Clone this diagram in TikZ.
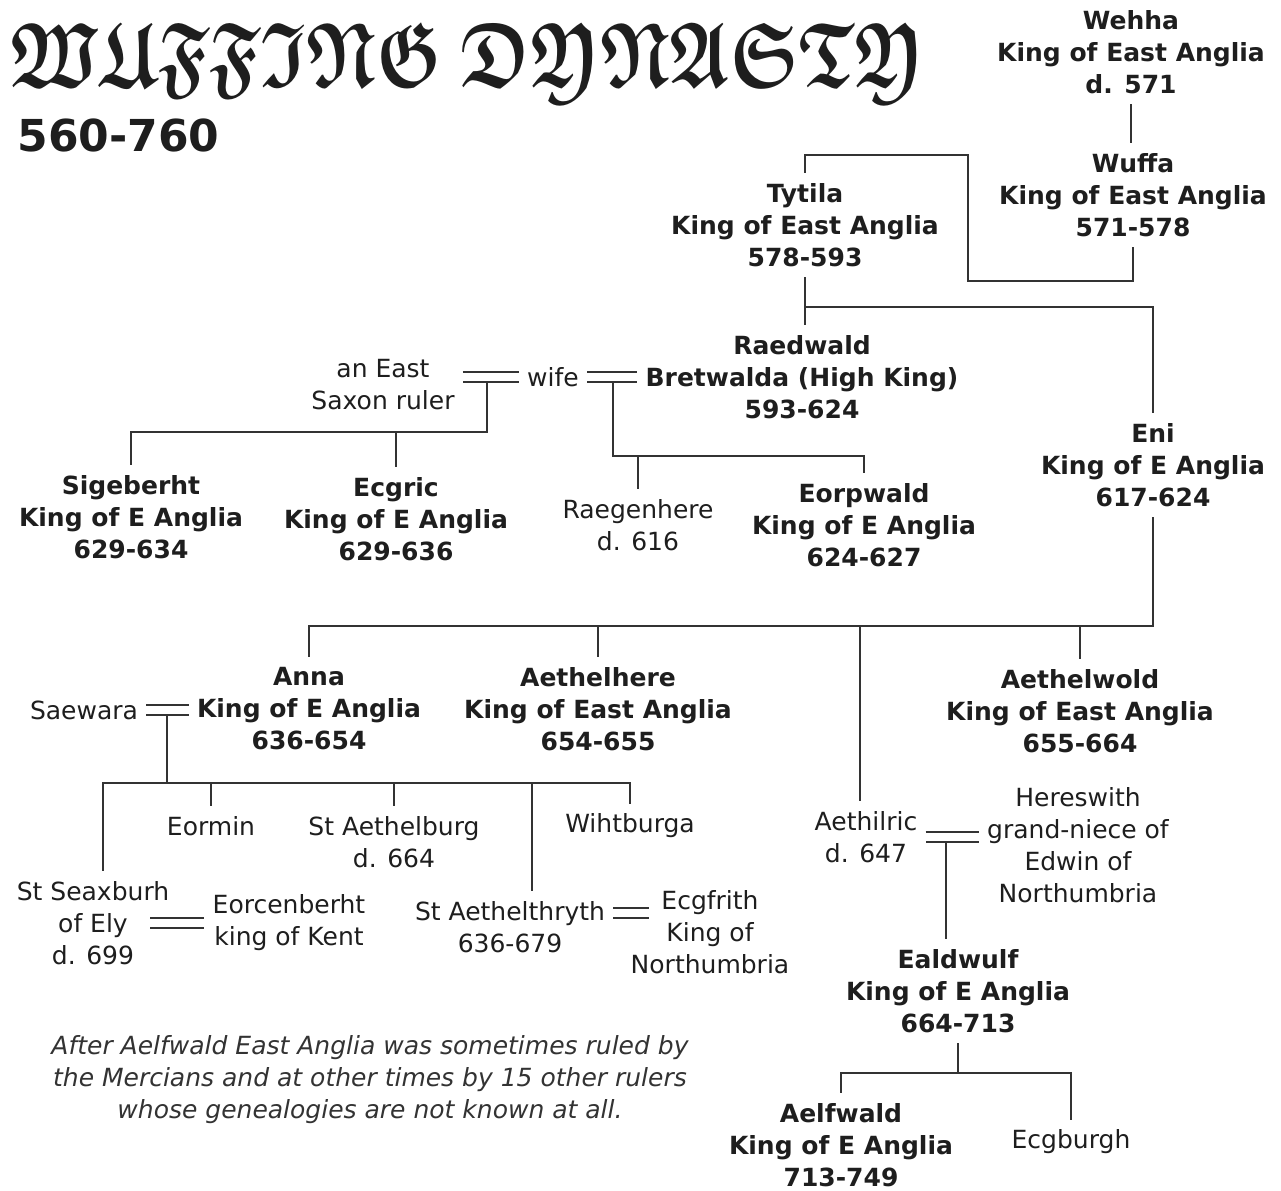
\documentclass[tikz,border=0pt]{standalone}
\usepackage{amsmath,amssymb}
\usepackage{fontspec}
\setmainfont{DejaVu Sans}
\usetikzlibrary{positioning}
\definecolor{ink}{HTML}{1E1E1E}
\definecolor{rule}{HTML}{333333}

\begin{document}
\begin{tikzpicture}[x=0.5pt,y=-0.5pt,text=ink,
 font=\fontsize{12.5}{16}\selectfont,
 king/.style={align=center,font=\fontsize{12.5}{16}\selectfont\bfseries,inner xsep=4pt,inner ysep=5pt},
 kin/.style={align=center,inner xsep=4pt,inner ysep=5pt},
 tie/.style={draw=rule,line width=0.75pt},
 wed/.style={draw=rule,double=white,double distance=4.2pt,line width=0.9pt}]
\useasboundingbox[fill=white] (0,0) rectangle (1281,1190);
% title
\node[anchor=base west,inner sep=0pt] (title) at (10,86) {\scalebox{1}[1.3]{\resizebox{457pt}{!}{$\boldsymbol{\mathfrak{WUFFING}}\;\boldsymbol{\mathfrak{DYNASTY}}$}}};
\node[anchor=west,inner sep=0pt,font=\fontsize{22}{26}\selectfont\bfseries] (years) at (17,135) {560-760};
% first kings
\node[king] (wehha) at (1131,52) {Wehha\\King of East Anglia\\d. 571};
\node[king] (wuffa) at (1133,195) {Wuffa\\King of East Anglia\\571-578};
\node[king] (tytila) at (805,225) {Tytila\\King of East Anglia\\578-593};
\node[king] (raedwald) at (802,377) {Raedwald\\Bretwalda (High King)\\593-624};
\node[king] (eni) at (1153,465) {Eni\\King of E Anglia\\617-624};
\coordinate (wlow) at (968,281);
\coordinate (whigh) at (968,155);
\coordinate (tbar) at (805,307);
\draw[tie] (wehha.south) -- (wehha.south |- wuffa.north);
\draw[tie] (wuffa.south) |- (wlow) -- (whigh) -| (tytila.north);
\draw[tie] (tytila.south) -- (tytila.south |- raedwald.north);
\draw[tie] (tbar) -| (eni.north);
% the wife and her two husbands
\node[kin] (wife) at (553,377) {wife};
\node[kin] (ruler) at (383,385) {an East\\Saxon ruler};
\draw[wed] (ruler.east |- wife.west) -- (wife.west);
\draw[wed] (wife.east) -- (raedwald.west |- wife.east);
\node[king] (sigeberht) at (131,517) {Sigeberht\\King of E Anglia\\629-634};
\node[king] (ecgric) at (396,519) {Ecgric\\King of E Anglia\\629-636};
\node[kin] (raegenhere) at (638,525) {Raegenhere\\d. 616};
\node[king] (eorpwald) at (864,525) {Eorpwald\\King of E Anglia\\624-627};
\coordinate (m1) at (487,383);
\coordinate (m1bar) at (487,432);
\coordinate (m2) at (613,383);
\coordinate (m2bar) at (613,456);
\draw[tie] (m1) -- (m1bar) -| (sigeberht.north);
\draw[tie] (ecgric.north) -- (ecgric.north |- m1bar);
\draw[tie] (m2) -- (m2bar) -| (eorpwald.north);
\draw[tie] (raegenhere.north) -- (raegenhere.north |- m2bar);
% sons of Eni
\node[king] (anna) at (309,709) {Anna\\King of E Anglia\\636-654};
\node[king] (aethelhere) at (598,709) {Aethelhere\\King of East Anglia\\654-655};
\node[king] (aethelwold) at (1080,711) {Aethelwold\\King of East Anglia\\655-664};
\node[kin] (aethilric) at (866,837) {Aethilric\\d. 647};
\coordinate (ebar) at (1153,626);
\draw[tie] (eni.south) -- (ebar) -| (anna.north);
\draw[tie] (aethelhere.north) -- (aethelhere.north |- ebar);
\draw[tie] (aethelwold.north) -- (aethelwold.north |- ebar);
\draw[tie] ([xshift=-3pt]aethilric.north) -- ([xshift=-3pt]aethilric.north |- ebar);
% children of Anna
\node[kin] (saewara) at (84,710) {Saewara};
\draw[wed] (saewara.east) -- (saewara.east -| anna.west);
\coordinate (m3) at (167,716);
\coordinate (m3bar) at (167,783);
\coordinate (m3end) at (630,783);
\node[kin] (eormin) at (211,826) {Eormin};
\node[kin] (aethelburg) at (394,842) {St Aethelburg\\d. 664};
\node[kin] (wihtburga) at (630,826) {Wihtburga};
\node[kin] (seaxburh) at (93,923) {St Seaxburh\\of Ely\\d. 699};
\node[kin] (eorcenberht) at (289,923) {Eorcenberht\\king of Kent};
\node[kin] (aethelthryth) at (510,927) {St Aethelthryth\\636-679};
\node[kin] (ecgfrith) at (710,932) {Ecgfrith\\King of\\Northumbria};
\draw[tie] (m3) -- (m3bar) -| ([xshift=5pt]seaxburh.north);
\draw[tie] (m3bar) -- (m3end) -- (wihtburga.north);
\draw[tie] (eormin.north) -- (eormin.north |- m3bar);
\draw[tie] (aethelburg.north) -- (aethelburg.north |- m3bar);
\draw[tie] ([xshift=11pt]aethelthryth.north) -- ([xshift=11pt]aethelthryth.north |- m3bar);
\draw[wed] ([xshift=28.5pt]seaxburh.center) -- (eorcenberht.west |- seaxburh.center);
\draw[wed] ([yshift=7pt]aethelthryth.east) -- ++(18pt,0);
% Aethilric's line
\node[kin] (hereswith) at (1078,845) {Hereswith\\grand-niece of\\Edwin of\\Northumbria};
\draw[wed] (aethilric.east) -- (aethilric.east -| hereswith.west);
\node[king] (ealdwulf) at (958,991) {Ealdwulf\\King of E Anglia\\664-713};
\coordinate (m4) at (946,843);
\draw[tie] (m4) -- (m4 |- ealdwulf.north);
\node[king] (aelfwald) at (841,1145) {Aelfwald\\King of E Anglia\\713-749};
\node[kin] (ecgburgh) at (1071,1142) {Ecgburgh};
\coordinate (m5bar) at (958,1073);
\draw[tie] (ealdwulf.south) -- (m5bar);
\draw[tie] (aelfwald.north) |- (m5bar) -| (ecgburgh.north);
% note
\node[kin,font=\fontsize{12.5}{16}\selectfont\itshape,text=rule] (note) at (370,1080) {After Aelfwald East Anglia was sometimes ruled by\\the Mercians and at other times by 15 other rulers\\whose genealogies are not known at all.};
\end{tikzpicture}
\end{document}
